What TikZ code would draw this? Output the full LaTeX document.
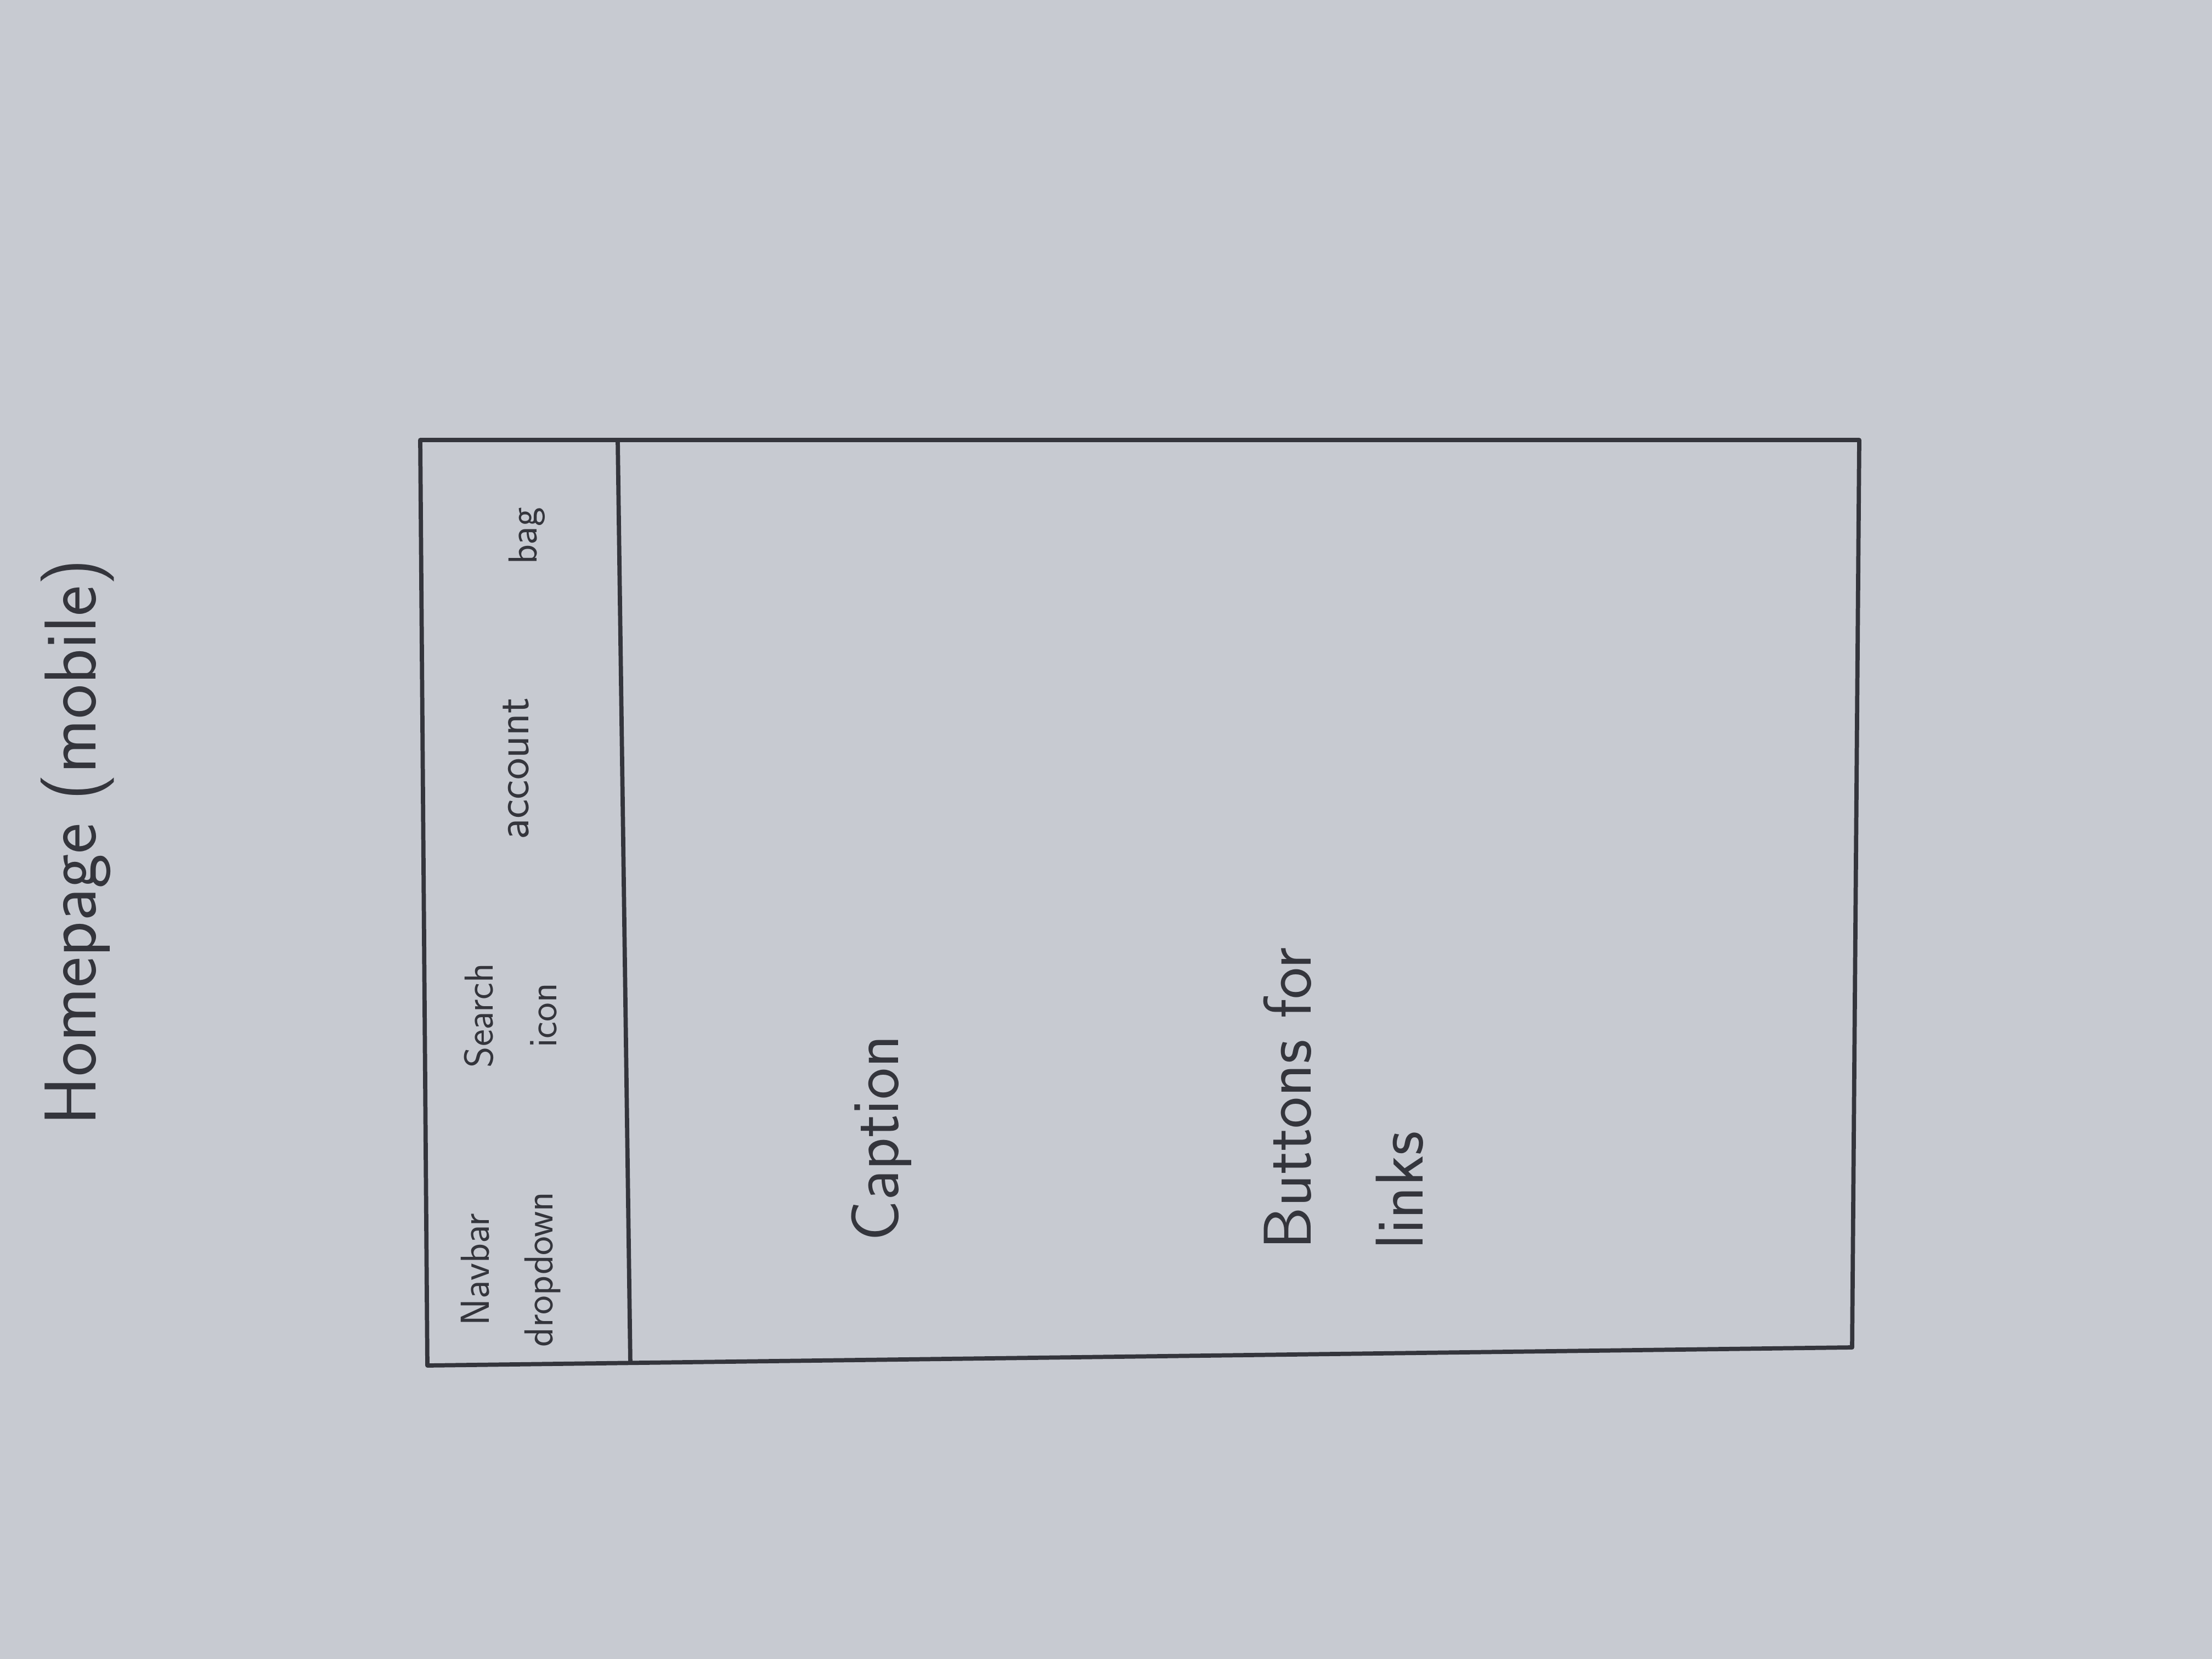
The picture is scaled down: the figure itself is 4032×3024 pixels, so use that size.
\documentclass[tikz,border=0pt]{standalone}
\usepackage{tikz}
\definecolor{paper}{RGB}{199,202,209}
\definecolor{pencil}{RGB}{52,53,60}
\tikzset{
    sketchline/.style = {draw=pencil, line width=2.2pt, line join=round},
    titletext/.style = {rotate=90, inner sep=0pt, text=pencil, font=\sffamily\fontsize{38}{44}\selectfont},
    navtext/.style = {rotate=90, inner sep=0pt, text=pencil, align=center, font=\sffamily\fontsize{21}{33}\selectfont},
    bodytext/.style = {rotate=90, inner sep=0pt, text=pencil, align=left, font=\sffamily\fontsize{35}{58}\selectfont}
}

\begin{document}
\begin{tikzpicture}[x=0.01cm, y=-0.01cm]
\fill[paper] (0,0) rectangle (4032,3024);

\coordinate (tl) at (766,802);
\coordinate (tr) at (3389,802);
\coordinate (br) at (3376,2456);
\coordinate (bl) at (779,2489);
\coordinate (dt) at (1126,803);
\coordinate (db) at (1149,2487);

\draw [sketchline] (tl) -- (tr) -- (br) -- (bl) -- cycle;
\draw [sketchline] (dt) -- (db);

\node (title) [titletext] at (141,1535) {Homepage (mobile)};
\node (navbar) [navtext] at (931,2314) {Navbar\\dropdown};
\node (search) [navtext] at (931,1851) {Search\\icon};
\node (account) [navtext, font=\sffamily\fontsize{24}{33}\selectfont] at (940,1401) {account};
\node (bag) [navtext] at (960,977) {bag};
\node (caption) [bodytext] at (1607,2075) {Caption};
\node (buttons) [bodytext, anchor=south west] at (2595,2278) {Buttons for\\links};
\end{tikzpicture}
\end{document}
